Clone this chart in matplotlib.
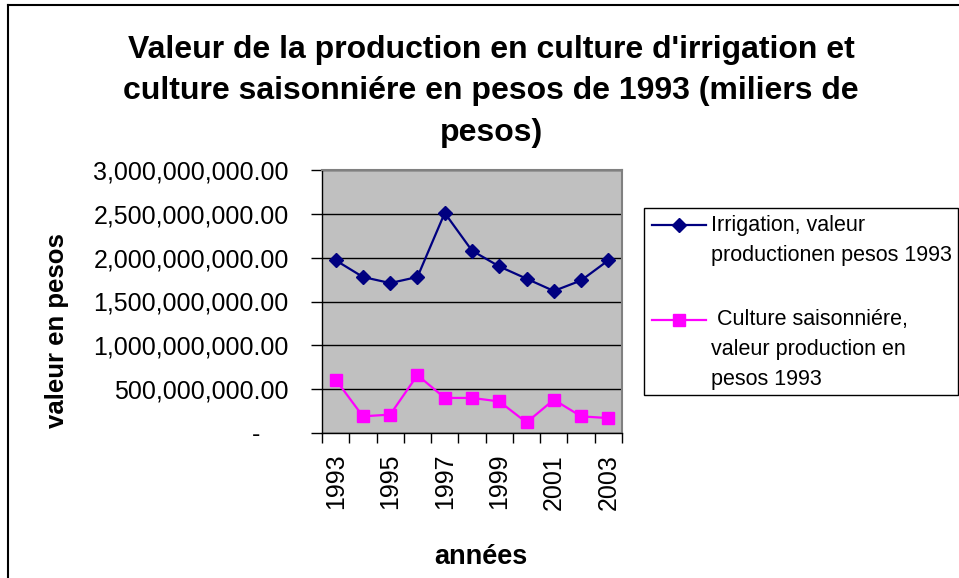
import matplotlib
matplotlib.use("Agg")
import matplotlib.pyplot as plt
from matplotlib.lines import Line2D
from matplotlib.patches import Rectangle
from matplotlib.ticker import FuncFormatter

plt.rcParams['font.family'] = ['Liberation Sans', 'DejaVu Sans']

years = [1993, 1994, 1995, 1996, 1997, 1998, 1999, 2000, 2001, 2002, 2003]
irrigation = [1.97e9, 1.78e9, 1.71e9, 1.78e9, 2.51e9, 2.08e9, 1.90e9, 1.76e9, 1.62e9, 1.74e9, 1.97e9]
saisonniere = [0.61e9, 0.19e9, 0.21e9, 0.66e9, 0.40e9, 0.40e9, 0.36e9, 0.12e9, 0.38e9, 0.19e9, 0.17e9]
yticks = [0, 5e8, 1e9, 1.5e9, 2e9, 2.5e9, 3e9]

title = "Valeur de la production en culture d'irrigation et\nculture saisonniére en pesos de 1993 (miliers de\npesos)"
label_irr = ["Irrigation, valeur", "productionen pesos 1993"]
label_sai = [" Culture saisonniére,", "valeur production en", "pesos 1993"]

W, H = 959, 578
navy = '#000080'
magenta = '#FF00FF'


def px(x, y):
    # image pixel -> figure fraction
    return x / W, 1 - y / H


fig = plt.figure(figsize=(W / 100, H / 100), dpi=100)
fig.patch.set_facecolor('white')

# chart area border (left and top visible)
fig.add_artist(Line2D([8 / W, 8 / W], [0, 1 - 5 / H], color='black', lw=1.5))
fig.add_artist(Line2D([8 / W, 1], [1 - 5 / H, 1 - 5 / H], color='black', lw=1.5))

ax = fig.add_axes([322 / W, 1 - 433 / H, 300 / W, 263 / H])
ax.set_facecolor('#C0C0C0')

x = list(range(len(years)))
ax.plot(x, irrigation, color=navy, lw=1.6, marker='D', ms=7.5, mfc=navy, mec=navy)
ax.plot(x, saisonniere, color=magenta, lw=1.6, marker='s', ms=9, mfc=magenta, mec=magenta)

ax.set_xlim(-0.5, len(years) - 0.5)
ax.set_ylim(0, 3e9)
ax.set_yticks(yticks)


def fmt(v, pos):
    if v == 0:
        return '-    '
    return '{:,.2f}'.format(v)


ax.yaxis.set_major_formatter(FuncFormatter(fmt))
ax.grid(axis='y', color='black', lw=1)
ax.set_axisbelow(True)

ax.set_xticks(x[::2])
ax.set_xticklabels([str(y) for y in years[::2]], rotation=90)
ax.set_xticks([i - 0.5 for i in range(len(years) + 1)], minor=True)
ax.tick_params(axis='x', which='major', length=0, pad=15, labelsize=18)
ax.tick_params(axis='x', which='minor', length=7, width=1, direction='out')
ax.tick_params(axis='y', length=8, width=1, direction='out', pad=16, labelsize=18)

for s in ['left', 'bottom']:
    ax.spines[s].set_color('black')
    ax.spines[s].set_linewidth(1)
for s in ['top', 'right']:
    ax.spines[s].set_color('#808080')
    ax.spines[s].set_linewidth(1.5)

# titles
fig.text(*px(491, 35), title, ha='center', va='top', fontsize=23, fontweight='bold',
         linespacing=1.5)
fig.text(*px(481, 564), 'années', ha='center', va='baseline', fontsize=19.5, fontweight='bold')
fig.text(*px(57, 331), 'valeur en pesos', ha='center', va='center', rotation=90,
         fontsize=18.5, fontweight='bold')

# legend
x0, y0 = px(644, 395)
x1, y1 = px(958, 208)
fig.add_artist(Rectangle((x0, y0), x1 - x0, y1 - y0, transform=fig.transFigure,
                         facecolor='white', edgecolor='black', lw=1))
entries = [(navy, 'D', 7.5, 225, label_irr), (magenta, 's', 9, 320, label_sai)]
for col, mk, ms, ly, lines in entries:
    fig.add_artist(Line2D([652 / W, 706 / W], [1 - ly / H, 1 - ly / H], color=col, lw=1.6))
    fig.add_artist(Line2D([679 / W], [1 - ly / H], color=col, marker=mk, ms=ms, mfc=col, mec=col))
    for i, t in enumerate(lines):
        fig.text(*px(711, ly + 30 * i), t, ha='left', va='center', fontsize=15.5)

fig.savefig('out.png', dpi=100)
